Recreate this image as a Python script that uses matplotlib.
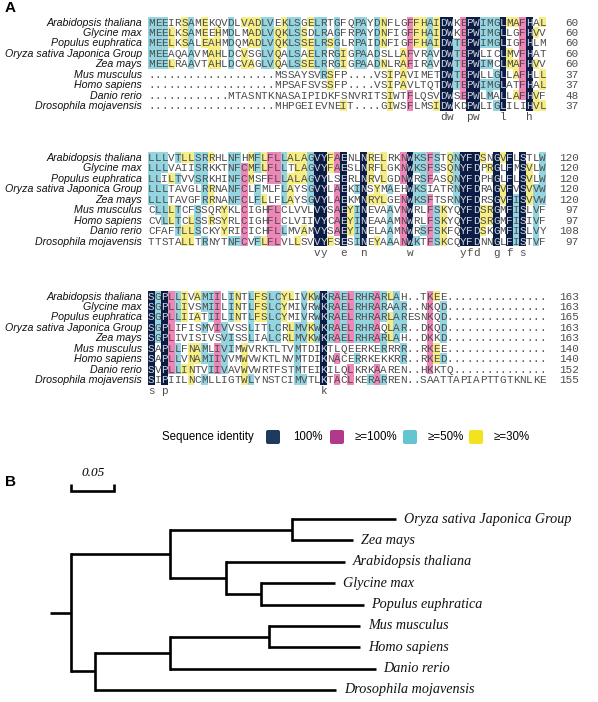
import re
from collections import Counter
import matplotlib
matplotlib.use("Agg")
import matplotlib.pyplot as plt
from matplotlib.patches import Rectangle, FancyBboxPatch

# ---------------- data ----------------
species = ["Arabidopsis thaliana", "Glycine max", "Populus euphratica",
           "Oryza sativa Japonica Group", "Zea mays", "Mus musculus",
           "Homo sapiens", "Danio rerio", "Drosophila mojavensis"]

block1 = [
    "MEEIRSAMEKQVDLVADLVEKLSGELRTGFQPAYDNFLGFFHAIDWKEPWIMGLMAFHAL",
    "MEELKSAMEEHMDLMADLVQKLSSDLRAGFRPAYDNFIGFFHAIDWKEPWIMGLLGFHVV",
    "MEELKSALEAHMDQMADLVQKLSSELRSGLRPAIDNFIGFFHAIDWTEPWIMGLIGFHLM",
    "MEEAQAAVMAHLDCVSGLVQALSAELRRGIGPAADSLLAFVRAVDWTEPWLICLMVFHAT",
    "MEELRAAVTAHLDCVAGLVQALSSELRRGIGPAADNLRAFIRAVDWTEPWIMCLMAFHVV",
    "...................MSSAYSVRSFP....VSIPAVIMETDWTEPWLLGLLAFHLL",
    "...................MPSAFSVSSFP....VSIPAVLTQTDWTEPWIMGLATFHAL",
    "............MTASNTKNASAIPIDKFSNVRITSIWTFLQSVDWSEPWLMALLAFHVF",
    "...................MHPGEIEVNEIT....GIWSFLMSIDWKDPWLIGLILIHVL",
]
block2 = [
    "LLLVTLLSRRHLNFHMFLFLLALAGVYFAENLNRELRKNWKSFSTQNYFDSNGVFLSTLW",
    "LLLVAIISRKKTNFCMFLFLLTLAGVYFAESLNRFLGKNWKSFSSQNYFDPRGLFMSVLW",
    "LLILTVVSRKHINFCMSFFLLALAGVYLSERLNRVLGDNWRSFASQNYFDPHGLFLSVLW",
    "LLLTAVGLRRNANFCLFMLFLAYSGVYLAEKINSYMAEHWKSIATRNYFDRAGVFVSVVW",
    "LLLTAVGFRRNANFCLFLLFLAYSGVYLAEKMNRYLGENWKSFTSRNYFDRSGVFISVVW",
    "CLLLTCFSSQRYKLCIGHFLCLVVLVYSAEYINEVAAVNWRLFSKYQYFDSRGMFISLVF",
    "CVLLTCLSSRSYRLCIGHFLCLVIIVYCAEYINEAAAMNWRLFSKYQYFDSRGMFISIVF",
    "CFAFTLLSCKYYRICICHFLLMVAMVYSAEYINELAAMNWRSFSKFQYFDSKGMFISLVY",
    "TTSTALLTRNYTNFCVFLFLVLLSVVYFSESINEYAAANWKTFSKCQYFDNNGLFISTVF",
]
block3 = [
    "SGPLLIVAMIILINTLFSLCYLIVKWKRAELRHRARLAH..TKEE...............",
    "SGPLLIVSMIILINTLFSLCYMIVRWKRAELRHRARAAR..NKQD...............",
    "SGPLLIIATIILINTLFSLCYMIVRWKRAELRHRARLARESNKQD...............",
    "SGPLIFISMVIVVSSLITLCRLMVKWKRAELRHRAQLAR..DKQD...............",
    "SGPLIVISIVSVISSLIALCRLMVKWKRAELRHRARLAH..DKKD...............",
    "SAPLLFNAMLIVIMWVRKTLTVMTDIKTLQEERKERRRR..RKEE...............",
    "SAPLLVNAMIIVVMWVWKTLNVMTDIKNACERRKEKKRR..RKED...............",
    "SVPLLINTVIIVAVWVWRTFSTMTEIKILQLKRKAAREN..HKKTQ..............",
    "SIPIILNCMLLIGTWLYNSTCIMVTLKTACLKERARREN..SAATTAPIAPTTGTKNLKE",
]
blocks = [block1, block2, block3]

legend_title = "Sequence identity"
legend_labels = ["100%", "\u2265=100%", "\u2265=50%", "\u2265=30%"]
level_thresholds = [1.0, 0.75, 0.5, 0.33]

tree_newick = ("(((Oryza sativa Japonica Group:0.121,Zea mays:0.071):0.142,"
               "(Arabidopsis thaliana:0.138,(Glycine max:0.086,Populus euphratica:0.119):0.041):0.065):0.114,"
               "(((Mus musculus:0.106,Homo sapiens:0.106):0.114,Danio rerio:0.238):0.088,"
               "Drosophila mojavensis:0.280):0.027);")
scale_value = 0.05

# ---------------- style ----------------
cell_colors = ["#0c1d45", "#f085b8", "#93d5e1", "#f6ee84"]
legend_colors = ["#1f3a5f", "#b2388c", "#63c5d2", "#f2e31c"]
W, H = 598, 702
fig = plt.figure(figsize=(W / 100, H / 100), dpi=100)
SANS = ["Liberation Sans", "DejaVu Sans"]
MONO = "Liberation Mono"


def px_axes(x0, y0, x1, y1):
    ax = fig.add_axes([x0 / W, 1 - y1 / H, (x1 - x0) / W, (y1 - y0) / H])
    ax.set_axis_off()
    return ax


# ---------------- alignment ----------------
seq_x0, seq_x1 = 148, 546
row_h = 10.45
block_row0 = [22, 157.5, 296]
ncols = 60
col_w = (seq_x1 - seq_x0) / ncols
num_right = 579
totals = [0] * len(species)

for b, blk in enumerate(blocks):
    top = block_row0[b] - row_h / 2
    ax = px_axes(seq_x0, top, seq_x1, top + row_h * len(species))
    ax.set_xlim(0, ncols)
    ax.set_ylim(len(species), 0)
    n = len(blk)
    for j in range(ncols):
        col = [s[j] for s in blk]
        res = [c for c in col if c != "."]
        level = None
        cons = None
        if res:
            cons, cnt = Counter(res).most_common(1)[0]
            frac = cnt / n
            for k, t in enumerate(level_thresholds):
                if frac >= t - 1e-9:
                    level = k
                    break
        for i, c in enumerate(col):
            hl = level is not None and c == cons
            if hl:
                ax.add_patch(Rectangle((j, i), 1, 1, facecolor=cell_colors[level],
                                       edgecolor="none"))
            tc = "#cfd3dc" if (hl and level == 0) else "#4d4d4d"
            ax.text(j + 0.5, i + 0.55, c, ha="center", va="center",
                    family=MONO, fontsize=7.9, color=tc)
        if level == 0:
            ax.text(j + 0.5, n + 0.6, cons.lower(), ha="center", va="center",
                    family=MONO, fontsize=7.9, color="#4d4d4d", clip_on=False)
    for i, s in enumerate(blk):
        totals[i] += sum(1 for c in s if c != ".")
        ax.text(-6 / col_w, i + 0.55, species[i], ha="right", va="center",
                family=SANS, style="italic", fontsize=7.7, color="#111111")
        ax.text(ncols + (num_right - seq_x1) / col_w, i + 0.55, str(totals[i]),
                ha="right", va="center", family=MONO, fontsize=7.9,
                color="#4d4d4d")

fig.text(5 / W, 1 - 8 / H, "A", family=SANS, weight="bold", fontsize=11,
         va="center", ha="left")

# ---------------- legend ----------------
lax = px_axes(0, 424, W, 452)
lax.set_xlim(0, W)
lax.set_ylim(452, 424)
ly = 437
lax.text(162, ly, legend_title, family=SANS, fontsize=8.3, va="center", ha="left")
sq_x = [266, 330, 403, 469]
for k, lab in enumerate(legend_labels):
    lax.add_patch(FancyBboxPatch((sq_x[k], ly - 7), 14, 14,
                                 boxstyle="round,pad=0,rounding_size=2",
                                 facecolor=legend_colors[k], edgecolor="none"))
    lax.text(sq_x[k] + (27 if k == 0 else 25), ly, lab, family=SANS,
             fontsize=8.3, va="center", ha="left")

# ---------------- tree ----------------
def parse_newick(s):
    tokens = re.findall(r"\(|\)|,|:[0-9.]+|;|[^(),:;]+", s)
    pos = 0

    def node():
        nonlocal pos
        children = []
        name = None
        if tokens[pos] == "(":
            pos += 1
            children.append(node())
            while tokens[pos] == ",":
                pos += 1
                children.append(node())
            pos += 1  # ')'
        else:
            name = tokens[pos].strip()
            pos += 1
        length = 0.0
        if pos < len(tokens) and tokens[pos].startswith(":"):
            length = float(tokens[pos][1:])
            pos += 1
        return {"name": name, "children": children, "len": length}

    return node()


tree = parse_newick(tree_newick)
tx0, px_per_unit = 71.3, 862
ty0, leaf_h = 519, 21.375
tax = px_axes(0, 460, W, H)
tax.set_xlim(-tx0 / px_per_unit, (W - tx0) / px_per_unit)
tax.set_ylim((H - ty0) / leaf_h, (460 - ty0) / leaf_h)
leaf_counter = [0]
LW = 1.9


def layout(nd, x):
    nd["x"] = x
    if not nd["children"]:
        nd["y"] = leaf_counter[0]
        leaf_counter[0] += 1
    else:
        for ch in nd["children"]:
            layout(ch, x + ch["len"])
        nd["y"] = (nd["children"][0]["y"] + nd["children"][-1]["y"]) / 2


def draw(nd, parent_x):
    tax.plot([parent_x, nd["x"]], [nd["y"], nd["y"]], color="black", lw=LW,
             solid_capstyle="butt")
    if nd["children"]:
        ys = [c["y"] for c in nd["children"]]
        tax.plot([nd["x"], nd["x"]], [min(ys), max(ys)], color="black", lw=LW,
                 solid_capstyle="projecting")
        for c in nd["children"]:
            draw(c, nd["x"])
    else:
        tax.text(nd["x"] + 8 / px_per_unit, nd["y"], nd["name"], ha="left",
                 va="center", family="Liberation Serif", style="italic",
                 fontsize=10.2, color="#111111")


layout(tree, 0.0)
draw(tree, -21 / px_per_unit)

# scale bar
sb_y = (491 - ty0) / leaf_h
tick = 7 / leaf_h
tax.plot([0, 0, scale_value, scale_value], [sb_y - tick, sb_y, sb_y, sb_y - tick],
         color="black", lw=LW, solid_capstyle="butt", solid_joinstyle="miter")
tax.text(scale_value / 2, (473 - ty0) / leaf_h, f"{scale_value:.2f}", ha="center",
         va="center", family="Liberation Serif", style="italic", fontsize=9.5)

fig.text(5 / W, 1 - 482 / H, "B", family=SANS, weight="bold", fontsize=11,
         va="center", ha="left")

fig.savefig("out.png", dpi=100, facecolor="white")
